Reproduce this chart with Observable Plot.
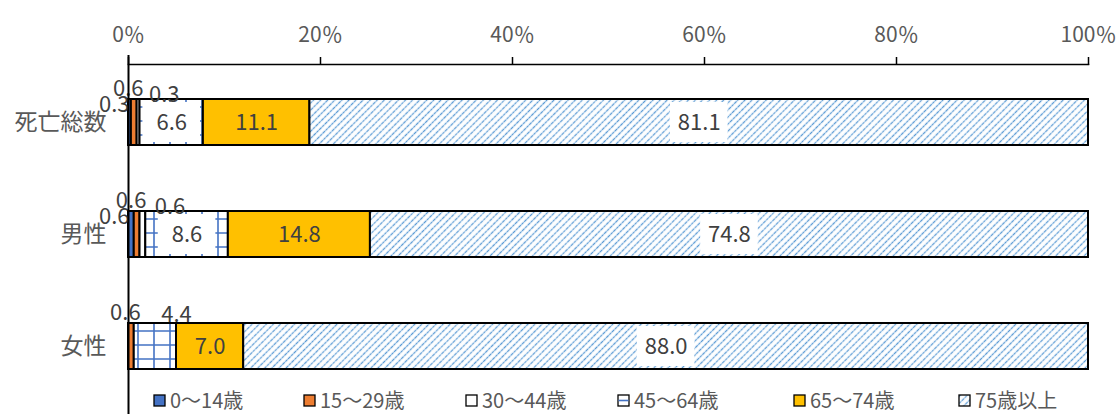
<!DOCTYPE html>
<html><head><meta charset="utf-8">
<script src="https://cdn.jsdelivr.net/npm/d3@7"></script>
<script src="https://cdn.jsdelivr.net/npm/@observablehq/plot@0.6"></script>
<style>
body{margin:0;background:#fff;font-family:"Noto Sans CJK JP","Noto Sans",sans-serif;}
#wrap{position:relative;width:1118px;height:414px;overflow:hidden;}
#legend{position:absolute;top:387px;left:0;height:26px;font-size:20px;color:#595959;}
#legend .item{position:absolute;top:0;display:flex;align-items:center;white-space:nowrap;line-height:26px;height:26px;}
#legend svg{margin-right:4px;}
</style></head>
<body>
<svg width="0" height="0" style="position:absolute">
<defs>
<pattern id="grid" width="16" height="14" patternUnits="userSpaceOnUse" x="2" y="2">
<rect width="16" height="14" fill="#fff"/>
<path d="M8 0V14M0 7H16" stroke="#4472C4" stroke-width="1.6"/>
</pattern>
<pattern id="hatch" width="5" height="8" patternUnits="userSpaceOnUse" patternTransform="rotate(45)">
<rect width="5" height="8" fill="#fff"/>
<line x1="2.5" y1="0" x2="2.5" y2="8" stroke="#5B9BD5" stroke-width="1.3" stroke-dasharray="2.4 0.9"/>
</pattern>
</defs>
</svg>
<div id="wrap"><div id="chart"></div><div id="legend"></div></div>
<script>
const groups = ["死亡総数", "男性", "女性"];
const ageGroups = ["0～14歳", "15～29歳", "30～44歳", "45～64歳", "65～74歳", "75歳以上"];
const totalValues = [0.3, 0.6, 0.3, 6.6, 11.1, 81.1];
const maleValues = [0.6, 0.6, 0.6, 8.6, 14.8, 74.8];
const femaleValues = [0, 0.6, 0, 4.4, 7.0, 88.0];
const xTicks = [0, 20, 40, 60, 80, 100];

const fills = ["#4472C4", "#ED7D31", "#FFFFFF", "url(#grid)", "#FFC000", "url(#hatch)"];

const rows = [];
[totalValues, maleValues, femaleValues].forEach((vals, gi) => {
  let acc = 0;
  vals.forEach((v, si) => {
    rows.push({group: groups[gi], series: ageGroups[si], si, value: v, start: acc, end: acc + v, mid: acc + v / 2});
    acc += v;
  });
});
const drawn = rows.filter(d => d.value > 0);
const inside = drawn.filter(d => d.value >= 5);
const boxed = inside.filter(d => d.si === 3 || d.si === 5);
const outside = drawn.filter(d => d.value < 5);

const placement = {
  0: {at: "start", anchor: "end", dx: 1, dy: -18},
  1: {at: "mid", anchor: "middle", dx: -6, dy: -34},
  2: {at: "end", anchor: "start", dx: 9, dy: -28},
  3: {at: "end", anchor: "middle", dx: 0, dy: -32}
};
const outsideMarks = Object.entries(placement).map(([si, p]) =>
  Plot.text(outside.filter(d => d.si === +si), {
    x: p.at, y: "group", text: d => d.value.toFixed(1),
    textAnchor: p.anchor, dx: p.dx, dy: p.dy,
    fill: "#404040", fontSize: 22
  })
);

const chart = Plot.plot({
  width: 1118, height: 414,
  marginTop: 64, marginLeft: 128, marginRight: 30, marginBottom: 11,
  style: {fontFamily: '"Noto Sans CJK JP", "Noto Sans", sans-serif', background: "#fff"},
  x: {domain: [0, 100]},
  y: {domain: groups, padding: 0.59, paddingOuter: 0.3},
  color: {domain: ageGroups, range: fills},
  marks: [
    Plot.barX(drawn, {x1: "start", x2: "end", y: "group", fill: "series", stroke: "#000", strokeWidth: 2}),
    Plot.barX(boxed, {x1: d => d.mid - 3, x2: d => d.mid + 3, y: "group", fill: "#fff", insetTop: 3, insetBottom: 3}),
    Plot.text(inside, {x: "mid", y: "group", text: d => d.value.toFixed(1), fill: "#404040", fontSize: 22}),
    ...outsideMarks,
    Plot.ruleX([0], {stroke: "#000", strokeWidth: 2, insetTop: -9, insetBottom: -11}),
    Plot.frame({anchor: "top", stroke: "#000", strokeWidth: 1.5}),
    Plot.axisX({anchor: "top", ticks: xTicks, tickFormat: d => d + "％", tickSize: 8, tickPadding: 15, fontSize: 21, color: "#595959", stroke: "#000", strokeWidth: 1.5, label: null}),
    Plot.axisY({tickSize: 0, tickPadding: 22, fontSize: 23, color: "#595959", label: null})
  ]
});
document.getElementById("chart").appendChild(chart);

const legendPos = [153, 303, 465, 617, 793, 958];
const legend = document.getElementById("legend");
ageGroups.forEach((name, i) => {
  const item = document.createElement("div");
  item.className = "item";
  item.style.left = legendPos[i] + "px";
  let inner = `<rect x="1" y="1" width="11" height="11" fill="${fills[i]}" stroke="#000" stroke-width="1.3"/>`;
  if (i === 3) inner = `<rect x="1" y="1" width="11" height="11" fill="#fff" stroke="#000" stroke-width="1.3"/><line x1="1.5" y1="6.5" x2="11.5" y2="6.5" stroke="#4472C4" stroke-width="1.6"/>`;
  item.innerHTML = `<svg width="13" height="13">${inner}</svg><span>${name}</span>`;
  legend.appendChild(item);
});
</script>
</body></html>
